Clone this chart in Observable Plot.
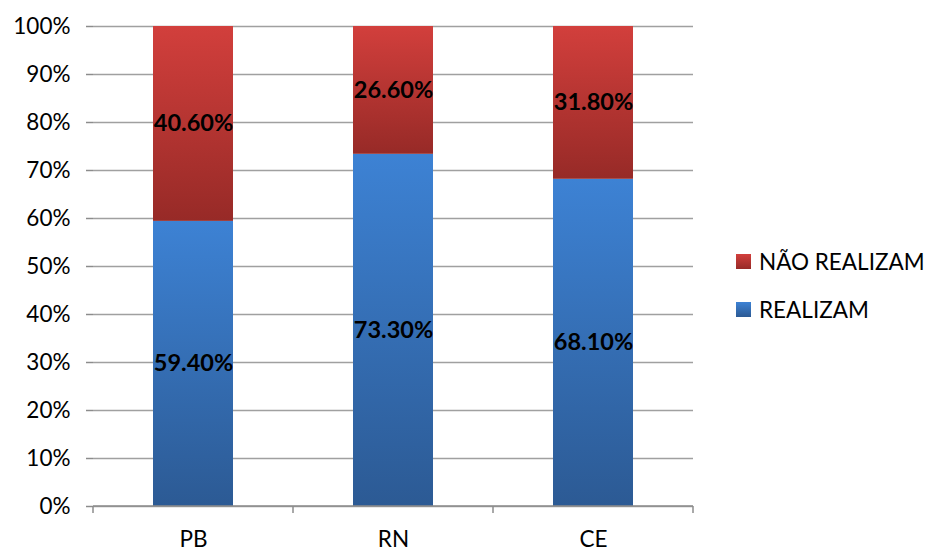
<!DOCTYPE html>
<html>
<head>
<meta charset="utf-8">
<script src="https://cdn.jsdelivr.net/npm/d3@7"></script>
<script src="https://cdn.jsdelivr.net/npm/@observablehq/plot@0.6"></script>
<style>
  html, body { margin: 0; padding: 0; background: #fff; }
  #wrap { position: relative; width: 926px; height: 552px; font-family: Lato, "Open Sans", sans-serif; }
  #legend { position: absolute; left: 736px; top: 237px; font-size: 22.5px; color: #000; }
  .item { display: flex; align-items: center; height: 48px; }
  .sw { width: 15px; height: 15px; margin-right: 8px; }
</style>
</head>
<body>
<div id="wrap"></div>
<script>
const states = ["PB", "RN", "CE"];
const series = ["REALIZAM", "NÃO REALIZAM"];
const realizam = [59.4, 73.3, 68.1];
const naoRealizam = [40.6, 26.6, 31.8];
const yTicks = [0, 0.1, 0.2, 0.3, 0.4, 0.5, 0.6, 0.7, 0.8, 0.9, 1];

const data = [];
states.forEach((s, i) => {
  data.push({state: s, serie: series[0], value: realizam[i]});
  data.push({state: s, serie: series[1], value: naoRealizam[i]});
});

const gradIds = {"REALIZAM": "gBlue", "NÃO REALIZAM": "gRed"};

const defs = () => {
  const d = d3.create("svg:defs");
  const mk = (id, top, bottom) => {
    const g = d.append("linearGradient").attr("id", id).attr("x1", 0).attr("y1", 0).attr("x2", 0).attr("y2", 1);
    g.append("stop").attr("offset", "0%").attr("stop-color", top);
    g.append("stop").attr("offset", "100%").attr("stop-color", bottom);
  };
  mk("gBlue", "#3d82d4", "#2c5a94");
  mk("gRed", "#d23f3c", "#972a27");
  return d.node();
};

const stackOpts = {x: "state", y: "value", z: "serie", order: series, offset: "normalize"};

// x-axis boundary ticks derived from the band scale
const boundaryTicks = (index, scales, values, dims) => {
  const x = scales.x;
  const step = x.step ? x.step() : (x.bandwidth() / 0.4);
  const bw = x.bandwidth();
  const g = d3.create("svg:g");
  const dom = x.domain();
  const edges = dom.map(d => x(d) - (step - bw) / 2);
  edges.push(x(dom[dom.length - 1]) + bw + (step - bw) / 2);
  const y0 = dims.height - dims.marginBottom;
  edges.forEach(e => g.append("line").attr("x1", e).attr("x2", e).attr("y1", y0).attr("y2", y0 + 7)
    .attr("stroke", "#8c8c8c").attr("stroke-width", 1.5));
  g.append("line").attr("x1", edges[0]).attr("x2", edges[edges.length - 1]).attr("y1", y0).attr("y2", y0)
    .attr("stroke", "#8c8c8c").attr("stroke-width", 1.5);
  return g.node();
};

const chart = Plot.plot({
  width: 926,
  height: 552,
  marginTop: 26,
  marginBottom: 46,
  marginLeft: 93,
  marginRight: 233,
  style: {fontFamily: "Lato, 'Open Sans', sans-serif", fontSize: "22.5px", color: "#000", background: "#fff"},
  x: {domain: states, paddingInner: 0.6, paddingOuter: 0.3, label: null},
  y: {domain: [0, 1], label: null},
  marks: [
    defs,
    Plot.gridY(yTicks, {stroke: "#a0a0a0", strokeOpacity: 1, strokeWidth: 1.5}),
    Plot.axisY(yTicks, {tickFormat: d3.format(".0%"), tickSize: 7, tickPadding: 16, stroke: "#8c8c8c", strokeWidth: 1.5, label: null, fontSize: 22.5}),
    Plot.ruleX([0], {frameAnchor: "left", stroke: "#8c8c8c", strokeWidth: 1.5}),
    Plot.barY(data, Plot.stackY({...stackOpts, fill: d => `url(#${gradIds[d.serie]})`})),
    Plot.axisX({tickSize: 0, tickPadding: 25, label: null, fontSize: 22.5}),
    boundaryTicks,
    Plot.text(data, Plot.stackY({...stackOpts, text: d => d.value.toFixed(2) + "%", fill: "#000", fontWeight: "bold", fontSize: 23.5}))
  ]
});

document.getElementById("wrap").appendChild(chart);

const legend = document.createElement("div");
legend.id = "legend";
const legendColors = {"NÃO REALIZAM": "linear-gradient(#d23f3c, #972a27)", "REALIZAM": "linear-gradient(#3d82d4, #2c5a94)"};
["NÃO REALIZAM", "REALIZAM"].forEach(s => {
  const it = document.createElement("div");
  it.className = "item";
  const sw = document.createElement("div");
  sw.className = "sw";
  sw.style.background = legendColors[s];
  const t = document.createElement("span");
  t.textContent = s;
  it.appendChild(sw);
  it.appendChild(t);
  legend.appendChild(it);
});
document.getElementById("wrap").appendChild(legend);
</script>
</body>
</html>
